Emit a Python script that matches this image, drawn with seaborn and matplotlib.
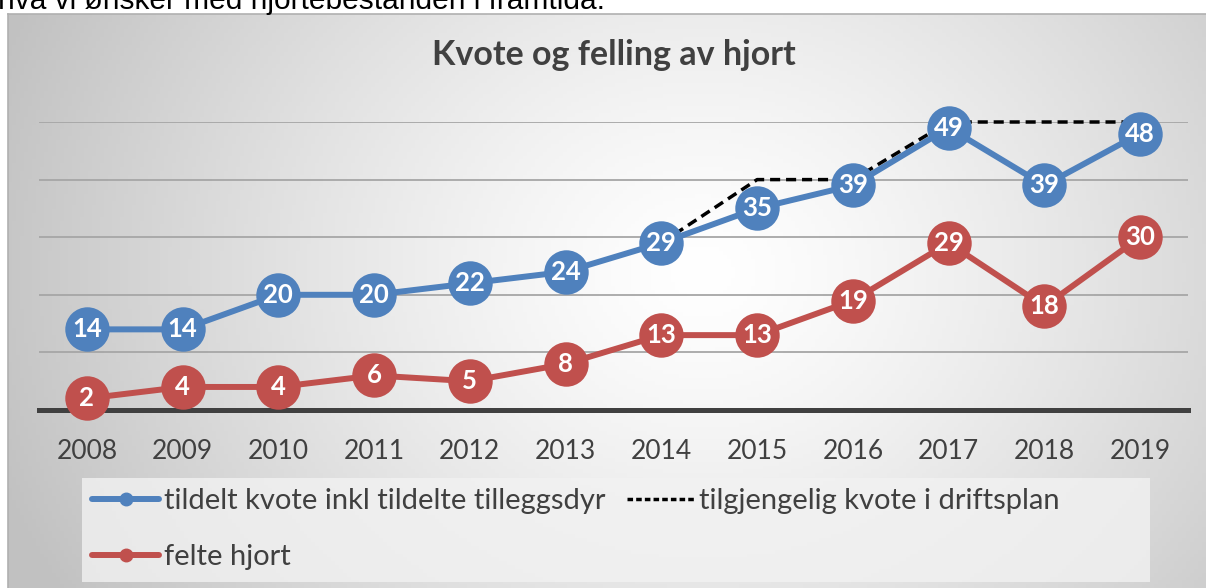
import numpy as np
import pandas as pd
import matplotlib
matplotlib.use("Agg")
import matplotlib.pyplot as plt
import seaborn as sns
from matplotlib.lines import Line2D
from matplotlib.patches import Rectangle

years = [2008, 2009, 2010, 2011, 2012, 2013, 2014, 2015, 2016, 2017, 2018, 2019]
kvote = [14, 14, 20, 20, 22, 24, 29, 35, 39, 49, 39, 48]
felte = [2, 4, 4, 6, 5, 8, 13, 13, 19, 29, 18, 30]
plan_years = [2014, 2015, 2016, 2017, 2018, 2019]
plan = [29, 40, 40, 50, 50, 50]

BLUE = "#4f81bd"
RED = "#c0504d"
DASH = (0, (2.9, 1.7))

sns.set_theme(style="white")
plt.rcParams["font.family"] = ["Lato", "DejaVu Sans"]

fig = plt.figure(figsize=(12.06, 5.88), dpi=100)

# chart frame with radial gradient background
W, H = 1206, 588
x0, y0 = 8, 14
bg = fig.add_axes([x0 / W, 0, 1 - x0 / W, 1 - y0 / H], zorder=0)
gx, gy = np.meshgrid(np.linspace(0, 1, 300), np.linspace(0, 1, 150))
r = np.sqrt(((gx - 0.58) / 0.62) ** 2 + ((gy - 0.45) / 1.1) ** 2)
shade = 1.0 - 0.24 * np.clip(r, 0, 1) ** 1.3
bg.imshow(np.dstack([shade] * 3), aspect="auto", extent=[0, 1, 0, 1], origin="upper")
bg.set_xticks([])
bg.set_yticks([])
for s in bg.spines.values():
    s.set_color("#b0b0b0")
    s.set_linewidth(1.2)
bg.spines["right"].set_visible(False)
bg.spines["bottom"].set_visible(False)

# cut-off text of the surrounding document
fig.text(-0.002, 1 - 9 / H, "hva vi ønsker med hjortebestanden i framtida.",
         fontsize=21.5, family=["Liberation Sans", "DejaVu Sans"], color="black",
         va="baseline", ha="left")

ax = fig.add_axes([39 / W, 1 - 410 / H, (1188 - 39) / W, (410 - 122) / H], zorder=1)
ax.patch.set_alpha(0)

df_k = pd.DataFrame({"year": years, "value": kvote})
df_f = pd.DataFrame({"year": years, "value": felte})
df_p = pd.DataFrame({"year": plan_years, "value": plan})

sns.lineplot(data=df_k, x="year", y="value", ax=ax, color=BLUE, linewidth=4.3,
             zorder=3, clip_on=False)
sns.lineplot(data=df_p, x="year", y="value", ax=ax, color="black", linewidth=2.5,
             linestyle=DASH, zorder=4, clip_on=False)
sns.lineplot(data=df_f, x="year", y="value", ax=ax, color=RED, linewidth=4.3,
             zorder=3, clip_on=False)

for df, col in [(df_k, BLUE), (df_f, RED)]:
    ax.plot(df["year"], df["value"], "o", color=col, markersize=32,
            markeredgewidth=0, zorder=5, clip_on=False)
    for xv, yv in zip(df["year"], df["value"]):
        ax.text(xv, yv, str(yv), color="white", fontsize=18.5, fontweight="bold",
                ha="center", va="center", zorder=6)

ax.set_xlim(2007.5, 2019.5)
ax.set_ylim(0, 50)
ax.set_yticks([10, 20, 30, 40, 50])
ax.set_yticklabels([])
ax.yaxis.grid(True, color="#a6a6a6", linewidth=1.3)
ax.set_axisbelow(True)
ax.tick_params(axis="y", length=0)
ax.set_xticks(years)
ax.set_xticklabels([str(y) for y in years], fontsize=19, color="#404040")
ax.tick_params(axis="x", length=0, pad=21)
ax.set_xlabel("")
ax.set_ylabel("")
for side in ["top", "right", "left"]:
    ax.spines[side].set_visible(False)
ax.spines["bottom"].set_color("#404040")
ax.spines["bottom"].set_linewidth(3.6)
ax.spines["bottom"].set_zorder(2)

fig.text(614 / W, 1 - 55 / H, "Kvote og felling av hjort", fontsize=24.5,
         fontweight="bold", color="#404040", ha="center", va="center")

# legend box
fig.patches.append(Rectangle((82 / W, 1 - 582 / H), (1150 - 82) / W, (582 - 478) / H,
                             transform=fig.transFigure, facecolor="#f2f2f2",
                             alpha=0.8, edgecolor="none", zorder=1))
handles = [
    Line2D([], [], color=BLUE, linewidth=4.3, marker="o", markersize=9),
    Line2D([], [], color=RED, linewidth=4.3, marker="o", markersize=9),
    Line2D([], [], color="black", linewidth=2.5, linestyle=(0, (1.6, 0.9))),
]
labels = ["tildelt kvote inkl tildelte tilleggsdyr", "felte hjort",
          "tilgjengelig kvote i driftsplan"]
leg = fig.legend(handles, labels, ncol=2, loc="upper left",
                 bbox_to_anchor=(69 / W, 1 - 465 / H), fontsize=21,
                 frameon=False, handlelength=2.3, handletextpad=0.15,
                 columnspacing=0.75, labelspacing=1.02, borderpad=0.3,
                 labelcolor="#404040")
leg.set_zorder(2)

fig.savefig("out.png", dpi=100)
